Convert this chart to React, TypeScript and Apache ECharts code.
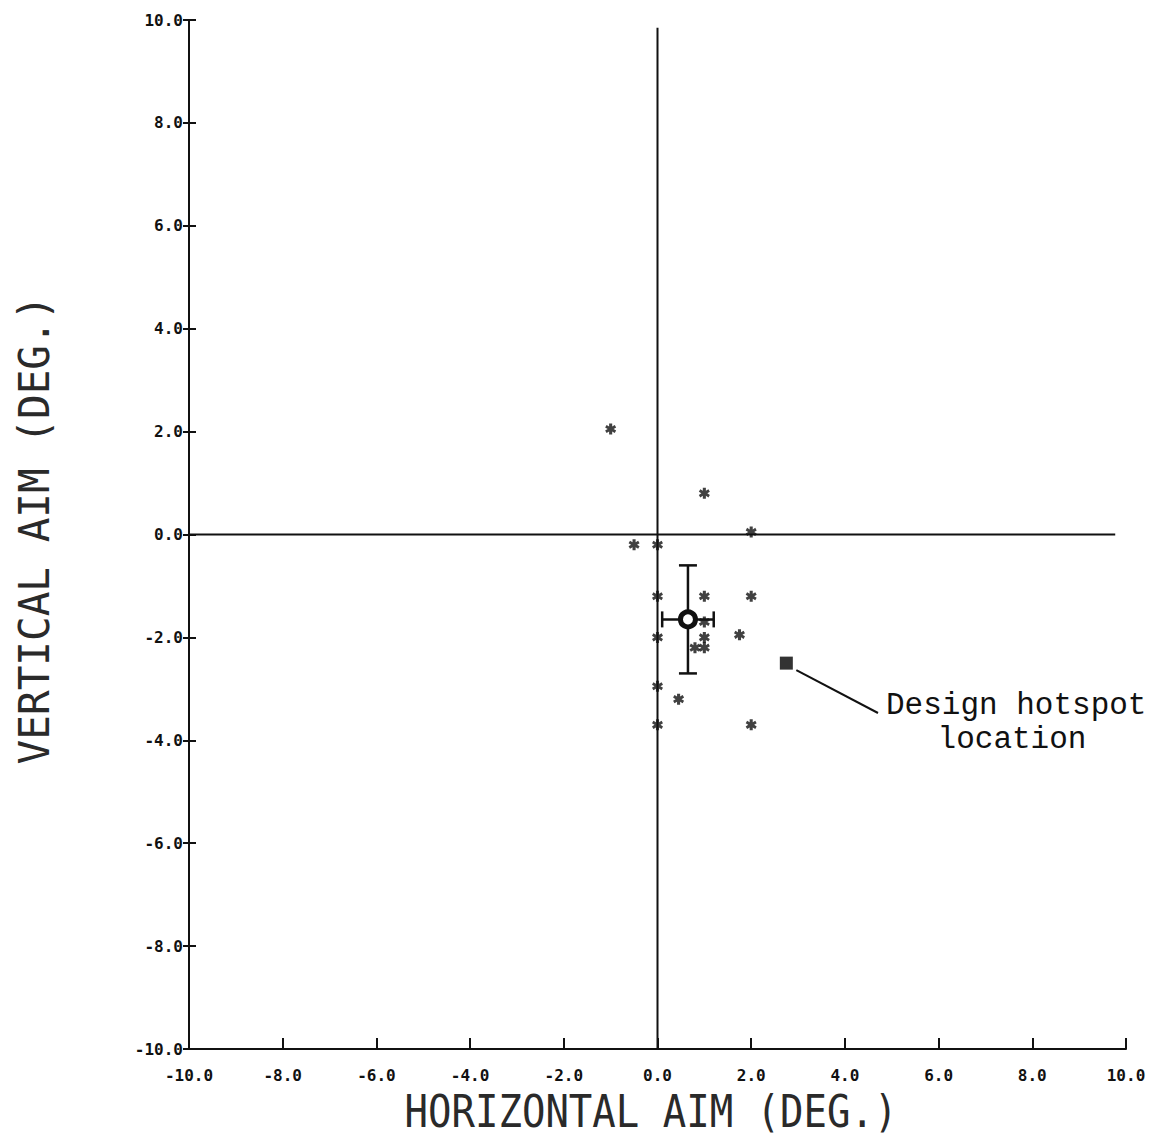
import React, { useEffect, useRef } from "react";
import * as echarts from "echarts";

// Individual aim measurements (degrees)
const shotX = [-1.0, 1.0, 2.0, -0.5, 0.0, 0.0, 1.0, 2.0, 1.0, 0.0, 1.0, 1.75, 0.8, 1.0, 0.0, 0.45, 0.0, 2.0];
const shotY = [2.05, 0.8, 0.05, -0.2, -0.2, -1.2, -1.2, -1.2, -1.7, -2.0, -2.0, -1.95, -2.2, -2.2, -2.95, -3.2, -3.7, -3.7];

// Mean aim and its spread
const meanX = 0.65;
const meanY = -1.65;
const spreadX = 0.55;
const spreadY = 1.05;

// Design hotspot
const hotspotX = 2.75;
const hotspotY = -2.5;

// Axis range and tick step
const axisMin = -10;
const axisMax = 10;
const tickStep = 2;

const ASTERISK =
  "path://M3.6,0 L6.4,0 L6.4,2.7 L8.7,1.3 L10,3.6 L7.7,5 L10,6.4 L8.7,8.7 L6.4,7.3 L6.4,10 L3.6,10 L3.6,7.3 L1.3,8.7 L0,6.4 L2.3,5 L0,3.6 L1.3,1.3 L3.6,2.7 Z";

const tickFont = {
  fontFamily: "DejaVu Sans Mono",
  fontWeight: "bold" as const,
  fontSize: 16,
  color: "#111",
};

export default function App() {
  const ref = useRef<HTMLDivElement>(null);

  useEffect(() => {
    if (!ref.current) return;
    const chart = echarts.init(ref.current, null, { renderer: "svg" });
    const fmt = (v: number) => v.toFixed(1);
    const axisLine = { onZero: false, lineStyle: { color: "#111", width: 2 } };

    chart.setOption({
      animation: false,
      backgroundColor: "#fff",
      grid: { left: 189, right: 28, top: 20, bottom: 89 },
      xAxis: [
        {
          type: "value",
          min: axisMin,
          max: axisMax,
          interval: tickStep,
          axisLine,
          axisTick: { inside: true, length: 11, lineStyle: { color: "#111", width: 2 } },
          axisLabel: { ...tickFont, margin: 18, formatter: fmt },
          splitLine: { show: false },
        },
      ],
      yAxis: [
        {
          type: "value",
          min: axisMin,
          max: axisMax,
          interval: tickStep,
          axisLine,
          axisTick: { inside: false, length: 6, lineStyle: { color: "#111", width: 2 } },
          axisLabel: { ...tickFont, margin: 6, formatter: fmt },
          splitLine: { show: false },
        },
        {
          type: "value",
          position: "left",
          min: axisMin,
          max: axisMax,
          interval: tickStep,
          axisLine: { show: false, onZero: false },
          axisTick: { inside: true, length: 7, lineStyle: { color: "#111", width: 2 } },
          axisLabel: { show: false },
          splitLine: { show: false },
        },
      ],
      series: [
        {
          type: "line",
          data: [[0, axisMin], [0, 9.85]],
          symbol: "none",
          lineStyle: { color: "#111", width: 2 },
          silent: true,
        },
        {
          type: "line",
          data: [[axisMin, 0], [9.77, 0]],
          symbol: "none",
          lineStyle: { color: "#111", width: 2 },
          silent: true,
        },
        {
          type: "scatter",
          data: shotX.map((x, i) => [x, shotY[i]]),
          symbol: ASTERISK,
          symbolSize: 11,
          itemStyle: { color: "#111" },
        },
        {
          type: "custom",
          data: [[meanX, meanY, spreadX, spreadY]],
          renderItem: (params: any, api: any) => {
            const x = api.value(0);
            const y = api.value(1);
            const ex = api.value(2);
            const ey = api.value(3);
            const c = api.coord([x, y]);
            const l = api.coord([x - ex, y]);
            const r = api.coord([x + ex, y]);
            const t = api.coord([x, y + ey]);
            const b = api.coord([x, y - ey]);
            const cap = 8;
            const st = { stroke: "#111", lineWidth: 2.5 };
            return {
              type: "group",
              children: [
                { type: "line", shape: { x1: l[0], y1: l[1], x2: r[0], y2: r[1] }, style: st },
                { type: "line", shape: { x1: t[0], y1: t[1], x2: b[0], y2: b[1] }, style: st },
                { type: "line", shape: { x1: l[0], y1: l[1] - cap, x2: l[0], y2: l[1] + cap }, style: st },
                { type: "line", shape: { x1: r[0], y1: r[1] - cap, x2: r[0], y2: r[1] + cap }, style: st },
                { type: "line", shape: { x1: t[0] - 9, y1: t[1], x2: t[0] + 9, y2: t[1] }, style: st },
                { type: "line", shape: { x1: b[0] - 9, y1: b[1], x2: b[0] + 9, y2: b[1] }, style: st },
                {
                  type: "circle",
                  shape: { cx: c[0], cy: c[1], r: 7.5 },
                  style: { fill: "#fff", stroke: "#111", lineWidth: 5 },
                },
              ],
            };
          },
        },
        {
          type: "scatter",
          data: [[hotspotX, hotspotY]],
          symbol: "rect",
          symbolSize: 13,
          itemStyle: { color: "#000" },
        },
      ],
    });

    const hp = chart.convertToPixel({ gridIndex: 0 }, [hotspotX, hotspotY]) as number[];
    chart.setOption({
      graphic: [
        {
          type: "line",
          shape: { x1: hp[0] + 10, y1: hp[1] + 7, x2: 878, y2: 713 },
          style: { stroke: "#111", lineWidth: 2 },
        },
        {
          type: "text",
          x: 886,
          y: 705,
          style: {
            text: "Design hotspot",
            font: "31px 'Liberation Mono'",
            fill: "#111",
            textAlign: "left",
            textVerticalAlign: "middle",
          },
        },
        {
          type: "text",
          x: 1012,
          y: 739,
          style: {
            text: "location",
            font: "31px 'Liberation Mono'",
            fill: "#111",
            textAlign: "center",
            textVerticalAlign: "middle",
          },
        },
        {
          type: "text",
          x: 651,
          y: 1112,
          scaleY: 1.12,
          style: {
            text: "HORIZONTAL AIM (DEG.)",
            font: "39px 'DejaVu Sans Mono'",
            fill: "#2a2a2a",
            textAlign: "center",
            textVerticalAlign: "middle",
          },
        },
        {
          type: "text",
          x: 34,
          y: 530,
          rotation: Math.PI / 2,
          scaleY: 1.05,
          style: {
            text: "VERTICAL AIM (DEG.)",
            font: "41px 'DejaVu Sans Mono'",
            fill: "#2a2a2a",
            textAlign: "center",
            textVerticalAlign: "middle",
          },
        },
      ],
    });

    return () => chart.dispose();
  }, []);

  return (
    <div
      ref={ref}
      style={{ position: "fixed", left: 0, top: 0, width: 1154, height: 1138 }}
    />
  );
}
